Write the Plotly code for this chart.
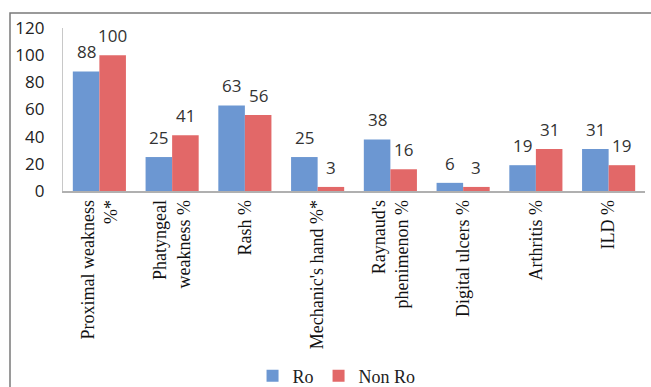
import plotly.graph_objects as go

categories = ["Proximal weakness<br>%*", "Phatyngeal<br>weakness %", "Rash %",
              "Mechanic's hand %*", "Raynaud's<br>phenimenon %", "Digital ulcers %",
              "Arthritis %", "ILD %"]
ro_values = [88, 25, 63, 25, 38, 6, 19, 31]
nonro_values = [100, 41, 56, 3, 16, 3, 31, 19]
y_ticks = [0, 20, 40, 60, 80, 100, 120]

fig = go.Figure()
fig.add_trace(go.Bar(name="Ro", x=categories, y=ro_values,
                     marker=dict(color="#6c97d2", line=dict(width=0))))
fig.add_trace(go.Bar(name="Non Ro", x=categories, y=nonro_values,
                     marker=dict(color="#e26868", line=dict(width=0))))

W, H = 651, 387
L, R, T, B = 63, 6, 28, 196
plot_w = W - L - R
plot_h = H - T - B
bar_px = plot_w / len(categories) * (1 - 0.27) / 2

label_font = dict(family="Open Sans, sans-serif", size=17, color="#333333")
annotations = []
for cat, v in zip(categories, ro_values):
    annotations.append(dict(x=cat, y=v, xref="x", yref="y", text=str(v), showarrow=False,
                            xshift=-bar_px / 2, yshift=6, yanchor="bottom", font=label_font))
for cat, v in zip(categories, nonro_values):
    annotations.append(dict(x=cat, y=v, xref="x", yref="y", text=str(v), showarrow=False,
                            xshift=bar_px / 2, yshift=6, yanchor="bottom", font=label_font))

legend_center_px = 376
fig.update_layout(
    width=W, height=H,
    margin=dict(l=L, r=R, t=T, b=B, autoexpand=False),
    paper_bgcolor="white", plot_bgcolor="white",
    barmode="group", bargap=0.27, bargroupgap=0,
    showlegend=True,
    legend=dict(orientation="h", x=0.47, xanchor="center",
                y=-(legend_center_px - (T + plot_h)) / plot_h, yanchor="middle",
                font=dict(family="Liberation Serif, serif", size=18, color="#222222"),
                itemwidth=30, tracegroupgap=0, bgcolor="rgba(0,0,0,0)"),
    xaxis=dict(tickangle=-90, showline=True, linecolor="#b0b0b0", linewidth=1.5,
               ticks="", showgrid=False, automargin=False,
               tickfont=dict(family="Liberation Serif, serif", size=18, color="#111111")),
    yaxis=dict(range=[0, 120], tickvals=y_ticks, showgrid=False, zeroline=False,
               showline=True, linecolor="#c8c8c8", linewidth=1.2, ticks="",
               ticklabelstandoff=14, automargin=False,
               tickfont=dict(family="Open Sans, sans-serif", size=17, color="#222222")),
    annotations=annotations,
    shapes=[dict(type="rect", xref="paper", yref="paper",
                 x0=(10 - L) / plot_w, x1=1.2,
                 y0=-1.5, y1=(H - B - 13) / plot_h,
                 line=dict(color="#7a7a7a", width=1.5), fillcolor="rgba(0,0,0,0)",
                 layer="below")],
)

fig.write_html("out.html")
